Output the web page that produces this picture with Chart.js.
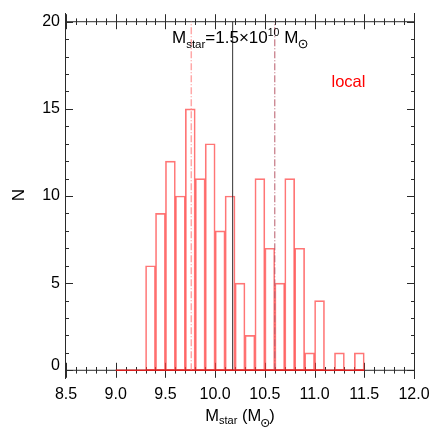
<!DOCTYPE html>
<html>
<head>
<meta charset="utf-8">
<script src="https://cdn.jsdelivr.net/npm/chart.js@4/dist/chart.umd.min.js"></script>
<style>
html,body{margin:0;padding:0;background:#fff;}
#wrap{width:436px;height:436px;}
</style>
</head>
<body>
<div id="wrap"><canvas id="c" width="436" height="436"></canvas></div>
<script>
// ---- data ----
const binCenters = [9.05, 9.15, 9.25, 9.35, 9.45, 9.55, 9.65, 9.75, 9.85, 9.95,
                    10.05, 10.15, 10.25, 10.35, 10.45, 10.55, 10.65, 10.75, 10.85, 10.95,
                    11.05, 11.15, 11.25, 11.35, 11.45];
const counts = [0, 0, 0, 6, 9, 12, 10, 15, 11, 13,
                8, 10, 5, 2, 11, 7, 5, 11, 7, 1,
                4, 0, 1, 0, 1];
const histRange = [9.0, 11.5];
const markLocalMedian = 9.76;
const markMstar = 10.176;
const markSecond = 10.60;
const markYRange = [0, 20];
const xTickValues = [8.5, 9.0, 9.5, 10.0, 10.5, 11.0, 11.5, 12.0];
const xTickLabels = ['8.5', '9.0', '9.5', '10.0', '10.5', '11.0', '11.5', '12.0'];
const yTickValues = [0, 5, 10, 15, 20];
const yTickLabels = ['0', '5', '10', '15', '20'];
const xMin = 8.5, xMax = 12.0, yMin = -0.5, yMax = 20.5;

const FONT = '"Liberation Sans", Arial, Helvetica, sans-serif';

function sun(ctx, cx, cy, r) {
  ctx.save();
  ctx.beginPath(); ctx.arc(cx, cy, r, 0, Math.PI * 2); ctx.lineWidth = 1; ctx.stroke();
  ctx.beginPath(); ctx.arc(cx, cy, 0.9, 0, Math.PI * 2); ctx.fill();
  ctx.restore();
}
function richWidth(ctx, segs) {
  let w = 0;
  for (const s of segs) {
    if (s.sun) { w += s.w; continue; }
    ctx.font = s.size + 'px ' + FONT; w += ctx.measureText(s.t).width;
  }
  return w;
}
function drawRich(ctx, segs, x, y) {
  ctx.textAlign = 'left'; ctx.textBaseline = 'alphabetic';
  for (const s of segs) {
    if (s.sun) { sun(ctx, x + s.w / 2, y + s.dy, s.r); x += s.w; continue; }
    ctx.font = s.size + 'px ' + FONT;
    ctx.fillText(s.t, x, y + (s.dy || 0));
    x += ctx.measureText(s.t).width;
  }
}

const framePlugin = {
  id: 'frame',
  beforeDatasetsDraw(chart) {
    const ctx = chart.ctx, xs = chart.scales.x, ys = chart.scales.y;
    const L = xs.getPixelForValue(xMin), R = xs.getPixelForValue(xMax);
    const T = ys.getPixelForValue(yMax), B = ys.getPixelForValue(yMin);
    const y0 = ys.getPixelForValue(0), y20 = ys.getPixelForValue(20);
    ctx.save();
    ctx.strokeStyle = '#2a2a2a'; ctx.lineWidth = 1;
    ctx.beginPath();
    ctx.moveTo(Math.round(L) - 0.5, T); ctx.lineTo(Math.round(L) - 0.5, B);
    ctx.moveTo(Math.round(R) + 0.5, T); ctx.lineTo(Math.round(R) + 0.5, B);
    ctx.moveTo(L, y0); ctx.lineTo(R, y0);
    ctx.moveTo(L, y20); ctx.lineTo(R, y20);
    for (let i = 0; i <= 35; i++) {
      const v = xMin + i * 0.1;
      const px = Math.round(xs.getPixelForValue(v)) + 0.5;
      const len = (i % 5 === 0) ? 7.5 : 3.3;
      ctx.moveTo(px, y0 - len); ctx.lineTo(px, y0 + len);
      ctx.moveTo(px, y20 - len); ctx.lineTo(px, y20 + len);
    }
    for (let v = 0; v <= 20; v++) {
      const py = Math.round(ys.getPixelForValue(v)) + 0.5;
      const len = (v % 5 === 0) ? 7 : 3;
      ctx.moveTo(L, py); ctx.lineTo(L + len, py);
      ctx.moveTo(R, py); ctx.lineTo(R - len, py);
    }
    ctx.stroke();
    ctx.restore();
  },
  afterDraw(chart) {
    const ctx = chart.ctx, xs = chart.scales.x, ys = chart.scales.y;
    ctx.save();
    ctx.fillStyle = '#000'; ctx.strokeStyle = '#000';
    ctx.font = '16px ' + FONT;
    ctx.textAlign = 'center'; ctx.textBaseline = 'middle';
    xTickValues.forEach((v, i) => ctx.fillText(xTickLabels[i], xs.getPixelForValue(v), 394.5));
    ctx.textAlign = 'right';
    yTickValues.forEach((v, i) => {
      const py = ys.getPixelForValue(v) + (v === 0 ? -5 : 0);
      ctx.fillText(yTickLabels[i], 60, py);
    });
    ctx.save();
    ctx.font = '17px ' + FONT;
    ctx.translate(19, 195); ctx.rotate(-Math.PI / 2);
    ctx.textAlign = 'center'; ctx.textBaseline = 'middle';
    ctx.fillText('N', 0, 0);
    ctx.restore();
    const xt = [{t: 'M', size: 16.5}, {t: 'star', size: 11, dy: 3}, {t: ' (M', size: 16.5},
                {sun: true, r: 3.6, dy: 2, w: 8}, {t: ')', size: 16.5}];
    const cx = (xs.getPixelForValue(xMin) + xs.getPixelForValue(xMax)) / 2;
    drawRich(ctx, xt, cx - richWidth(ctx, xt) / 2, 421);
    const an = [{t: 'M', size: 17}, {t: 'star', size: 11.5, dy: 5}, {t: '=1.5\u00d710', size: 17},
                {t: '10', size: 10.5, dy: -7}, {t: ' M', size: 17}, {sun: true, r: 3.9, dy: 1.5, w: 9.5}];
    drawRich(ctx, an, 172, 42.5);
    ctx.fillStyle = '#ff0000';
    ctx.font = '16.5px ' + FONT; ctx.textAlign = 'left'; ctx.textBaseline = 'alphabetic';
    ctx.fillText('local', 331.5, 87);
    ctx.restore();
  }
};

const barData = binCenters.map((x, i) => ({x: x, y: counts[i]}));
const vline = v => [{x: v, y: markYRange[0]}, {x: v, y: markYRange[1]}];

new Chart(document.getElementById('c'), {
  type: 'bar',
  data: {
    datasets: [
      {type: 'line', data: histRange.map(x => ({x: x, y: 0})), borderColor: '#d81e1e',
       borderWidth: 1.5, pointRadius: 0, fill: false},
      {type: 'line', data: vline(markMstar), borderColor: '#333', borderWidth: 1,
       pointRadius: 0, fill: false},
      {type: 'line', data: vline(markSecond), borderColor: '#b85a6a', borderWidth: 1,
       borderDash: [7, 2, 1, 2], pointRadius: 0, fill: false},
      {type: 'line', data: vline(markLocalMedian), borderColor: '#ffa8a8', borderWidth: 1.5,
       borderDash: [7, 2, 1, 2], pointRadius: 0, fill: false},
      {type: 'bar', data: barData, backgroundColor: 'rgba(0,0,0,0)',
       borderColor: 'rgba(255,60,60,0.7)', borderWidth: 1, borderSkipped: false,
       barPercentage: 1, categoryPercentage: 1}
    ]
  },
  options: {
    responsive: false,
    animation: false,
    devicePixelRatio: 1,
    layout: {padding: {left: 66, right: 22, top: 13, bottom: 57}},
    plugins: {legend: {display: false}, tooltip: {enabled: false}},
    scales: {
      x: {type: 'linear', min: xMin, max: xMax, offset: false, display: false},
      y: {type: 'linear', min: yMin, max: yMax, display: false}
    }
  },
  plugins: [framePlugin]
});
</script>
</body>
</html>
